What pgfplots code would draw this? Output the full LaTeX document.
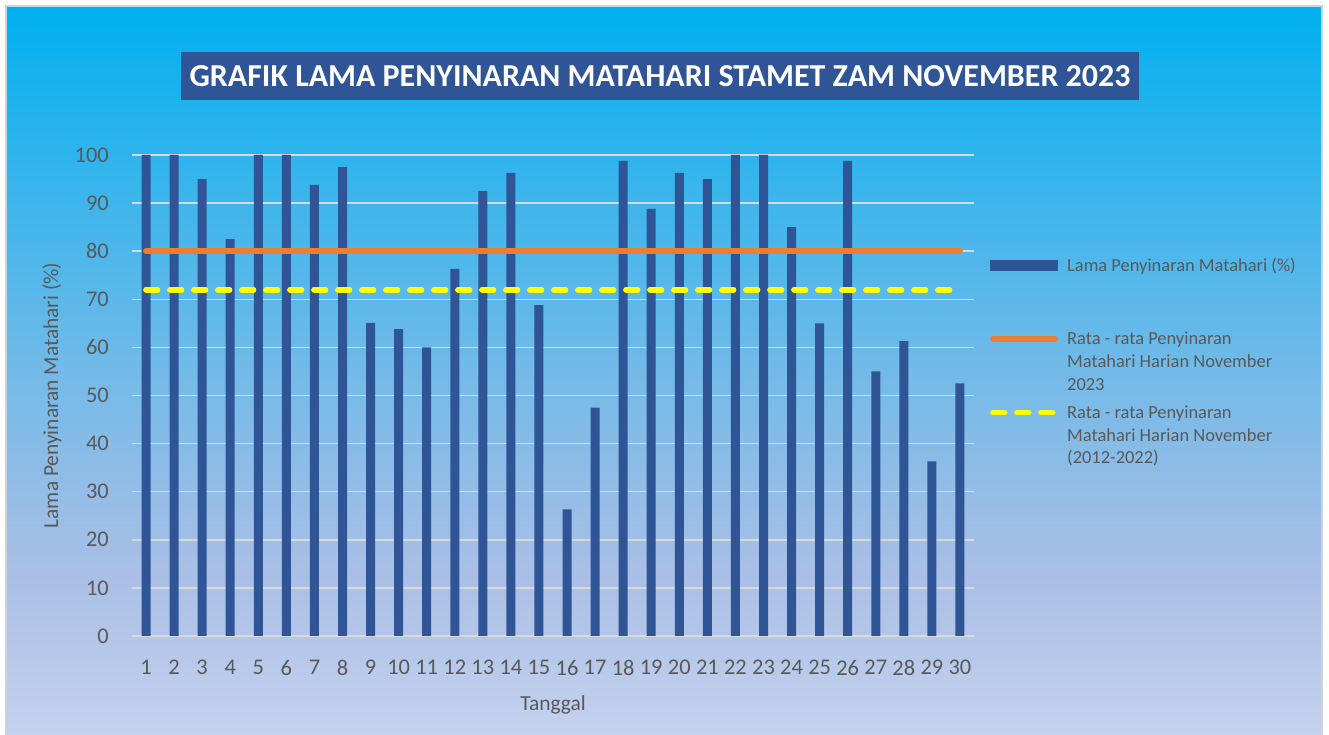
\documentclass[border=0pt]{standalone}
\usepackage{pgfplots}
\pgfplotsset{compat=1.18}
\usepackage{fontspec}
\setmainfont{Carlito}
\definecolor{titlebg}{HTML}{2F5597}
\definecolor{barblue}{HTML}{2F5597}
\definecolor{gridgray}{HTML}{D9D9D9}
\definecolor{textgray}{HTML}{595959}
\definecolor{lineorange}{HTML}{ED7D31}
\definecolor{lineyellow}{HTML}{FFFF00}
\definecolor{bgtop}{HTML}{00B0F0}
\definecolor{bgmid}{HTML}{72BAE8}
\definecolor{bglav}{HTML}{AABFE6}
\definecolor{bgbot}{HTML}{C3D2EE}
\pgfdeclareverticalshading{chartbg}{100bp}{color(0bp)=(bgbot); color(25bp)=(bgbot); color(36bp)=(bglav); color(50bp)=(bgmid); color(75bp)=(bgtop); color(100bp)=(bgtop)}
\pgfplotstableread{
x y
1 100
2 100
3 95.0
4 82.5
5 100
6 100
7 93.8
8 97.5
9 65.1
10 63.8
11 60.0
12 76.3
13 92.5
14 96.3
15 68.8
16 26.3
17 47.5
18 98.8
19 88.8
20 96.3
21 95.0
22 100
23 100
24 85.0
25 65.0
26 98.8
27 55.0
28 61.3
29 36.3
30 52.5
}\sundata
\begin{document}
\begin{tikzpicture}
\fill[white] (0bp,0bp) rectangle (1329bp,735bp);
\shade[shading=chartbg] (6bp,0bp) rectangle (1322bp,729bp);
\draw[color=gray!35, line width=1.2bp] (6bp,0bp) -- (6bp,729bp) -- (1322bp,729bp) -- (1322bp,0bp);
\node[fill=titlebg, minimum width=958bp, minimum height=48bp, inner sep=0pt,
      text=white, font=\fontsize{32.1}{36}\selectfont\bfseries] at (660bp,659bp)
      {GRAFIK LAMA PENYINARAN MATAHARI STAMET ZAM NOVEMBER 2023};
\begin{axis}[
  at={(132bp,99bp)}, anchor=south west,
  scale only axis, width=842bp, height=481bp,
  xmin=0.5, xmax=30.5, ymin=0, ymax=100,
  xtick={1,...,30}, ytick={0,10,...,100},
  ymajorgrids, major grid style={color=gridgray, line width=1.5bp},
  axis line style={draw=none}, major tick length=0pt,
  /pgf/number format/assume math mode=true,
  tick label style={font=\fontsize{22.5}{26}\selectfont, text=textgray, inner sep=0pt},
  xticklabel style={anchor=north, yshift=-24bp},
  yticklabel style={anchor=east, xshift=-23bp},
  xlabel={Tanggal},
  ylabel={Lama Penyinaran Matahari (\%)},
  every axis x label/.style={at={(axis description cs:0.5,-0.154)}, anchor=base,
    font=\fontsize{21.5}{25}\selectfont, text=textgray},
  every axis y label/.style={at={(axis description cs:-0.095,0.5)}, rotate=90, anchor=center,
    font=\fontsize{21.5}{25}\selectfont, text=textgray},
  clip=false,
  legend style={draw=none, fill=none, inner sep=0pt,
    at={(axis description cs:1.019,0.786)}, anchor=north west,
    font=\fontsize{18.5}{23}\selectfont, text=textgray,
    cells={anchor=base west},
    nodes={inner xsep=9bp, inner ysep=0pt, text height=13bp, text depth=56bp},
    row sep=4.5bp},
]
\addplot[ybar, bar width=9bp, fill=barblue, draw=none,
  legend image code/.code={\fill[barblue] (0bp,0bp) rectangle (68bp,11bp);}]
  table[x=x,y=y] {\sundata};
\addlegendentry{\parbox[t]{260bp}{Lama Penyinaran Matahari (\%)}}
\addplot[lineorange, line width=5.8bp, line cap=round,
  legend image code/.code={\draw[lineorange, line width=5.8bp, line cap=round] (2.9bp,5.3bp) -- (65bp,5.3bp);}]
  coordinates {(1,80) (30,80)};
\addlegendentry{\parbox[t]{260bp}{Rata - rata Penyinaran\\Matahari Harian November\\2023}}
\addplot[lineyellow, line width=5.8bp, line cap=round, dash pattern=on 11.5bp off 12.5bp,
  legend image code/.code={\draw[lineyellow, line width=5.8bp, line cap=round, dash pattern=on 11.5bp off 12.5bp] (2.9bp,5.7bp) -- (65bp,5.7bp);}]
  coordinates {(1,72) (30,72)};
\addlegendentry{\parbox[t]{260bp}{Rata - rata Penyinaran\\Matahari Harian November\\(2012-2022)}}
\end{axis}
\pgfresetboundingbox
\useasboundingbox (0bp,0bp) rectangle (1329bp,735bp);
\end{tikzpicture}
\end{document}
